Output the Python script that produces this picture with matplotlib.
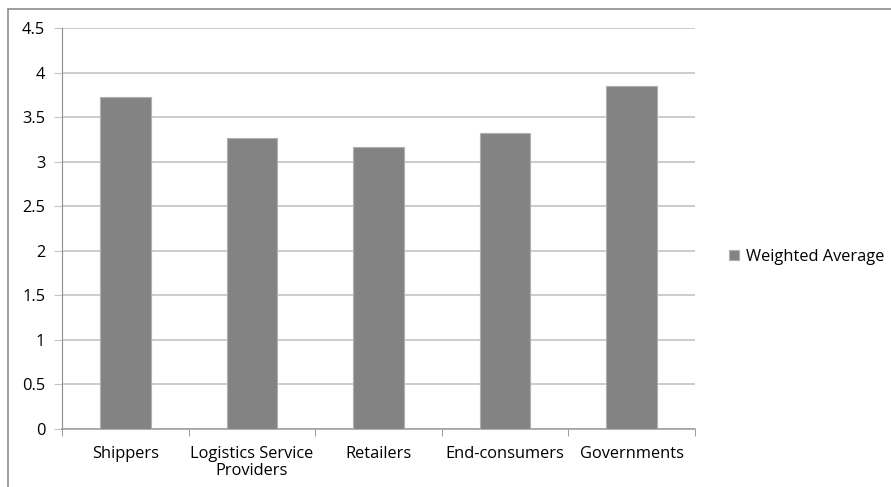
import numpy as np
import matplotlib.pyplot as plt
from matplotlib.patches import Rectangle

categories = ['Shippers', 'Logistics Service\nProviders', 'Retailers', 'End-consumers', 'Governments']
weighted_avg = [3.73, 3.27, 3.17, 3.32, 3.85]
yticks = [0, 0.5, 1, 1.5, 2, 2.5, 3, 3.5, 4, 4.5]
ytick_labels = ['0', '0.5', '1', '1.5', '2', '2.5', '3', '3.5', '4', '4.5']

plt.rcParams['font.family'] = ['Open Sans', 'DejaVu Sans']
FS = 11.8

fig = plt.figure(figsize=(8.91, 4.87), dpi=100)
ax = fig.add_axes([0.0696, 0.119, 0.7104, 0.8235])

# outer chart frame
fig.patches.append(Rectangle((8 / 891, -0.01), 1.0, 1 - 9 / 487 + 0.01,
                             transform=fig.transFigure, fill=False,
                             edgecolor='#8c8c8c', linewidth=1.2))

x = np.arange(len(categories))
ax.bar(x, weighted_avg, width=0.4, color='#838383', edgecolor='#b0b0b0',
       linewidth=0.8, label='Weighted Average', zorder=3)

ax.set_xlim(-0.5, len(categories) - 0.5)
ax.set_ylim(0, 4.5)
ax.set_yticks(yticks)
ax.set_yticklabels(ytick_labels, fontsize=FS)
ax.yaxis.grid(True, color='#c4c4c4', linewidth=1.2, zorder=0)

ax.set_xticks(x)
ax.set_xticklabels(categories, fontsize=FS, linespacing=1.1)
ax.set_xticks(np.arange(-0.5, len(categories)), minor=True)
ax.tick_params(axis='x', which='major', length=0, pad=12)
ax.tick_params(axis='x', which='minor', length=5, color='#8c8c8c', direction='out')
ax.tick_params(axis='y', length=6, color='#c4c4c4', pad=6)

for s in ['top', 'right']:
    ax.spines[s].set_visible(False)
ax.spines['left'].set_color('#8c8c8c')
ax.spines['bottom'].set_color('#a0a0a0')
ax.spines['bottom'].set_linewidth(1.2)

ax.legend(loc='center left', bbox_to_anchor=(1.054, 0.43), frameon=False,
          fontsize=FS, handlelength=0.6, handleheight=0.6, handletextpad=0.4,
          borderpad=0, borderaxespad=0)

fig.savefig('out.png', dpi=100)
